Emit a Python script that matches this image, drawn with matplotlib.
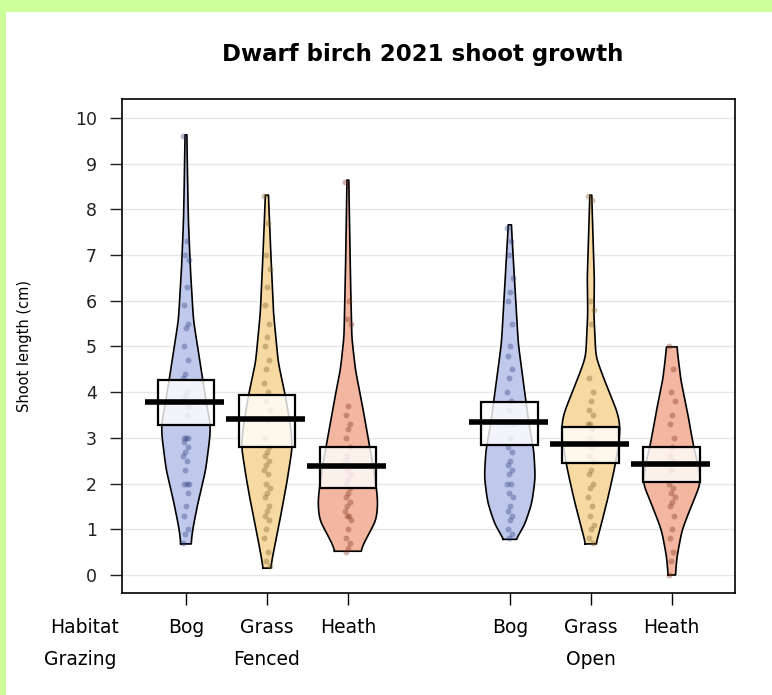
import numpy as np
import matplotlib.pyplot as plt
from matplotlib import transforms
from matplotlib.patches import Rectangle

# groups: grazing x habitat
habitat = ['Bog', 'Grass', 'Heath', 'Bog', 'Grass', 'Heath']
grazing = ['Fenced', 'Open']
pos = [1, 2, 3, 5, 6, 7]

# shoot lengths (cm) per group
pts_fb = [9.6, 7.3, 7.0, 6.9, 6.3, 5.9, 5.5, 5.4, 5.0, 4.7, 4.4, 4.3, 4.0, 3.9, 3.7, 3.5,
          3.0, 3.0, 3.0, 2.9, 2.8, 2.7, 2.6, 2.5, 2.3, 2.0, 2.0, 2.0, 1.8, 1.5, 1.3, 1.0, 0.9, 0.7]
pts_fg = [8.3, 7.7, 7.0, 6.7, 6.3, 5.9, 5.5, 5.2, 5.0, 4.7, 4.5, 4.2, 4.0, 3.8, 3.6, 3.4, 3.0,
          2.8, 2.7, 2.6, 2.5, 2.4, 2.3, 2.2, 2.0, 1.9, 1.8, 1.7, 1.5, 1.4, 1.3, 1.2, 1.0, 0.8,
          0.5, 0.3, 0.2]
pts_fh = [8.6, 6.0, 5.6, 5.5, 3.7, 3.5, 3.3, 3.2, 3.0, 2.8, 2.6, 2.5, 2.4, 2.3, 2.2, 2.1, 2.0,
          1.9, 1.8, 1.7, 1.6, 1.5, 1.4, 1.3, 1.3, 1.2, 1.0, 0.8, 0.7, 0.6, 0.5]
pts_ob = [7.6, 7.3, 7.0, 6.5, 6.2, 6.0, 5.5, 5.0, 4.8, 4.5, 4.3, 4.0, 3.8, 3.6, 3.3, 3.0, 2.8,
          2.7, 2.5, 2.4, 2.3, 2.2, 2.0, 2.0, 1.8, 1.7, 1.5, 1.4, 1.3, 1.2, 1.0, 0.9, 0.8]
pts_og = [8.3, 8.2, 6.0, 5.8, 5.5, 4.3, 4.0, 3.8, 3.6, 3.5, 3.3, 3.3, 3.2, 3.0, 2.9, 2.8, 2.6,
          2.5, 2.3, 2.2, 2.0, 1.9, 1.7, 1.5, 1.3, 1.1, 1.0, 0.8, 0.7]
pts_oh = [5.0, 4.5, 4.0, 3.8, 3.5, 3.3, 3.0, 2.8, 2.6, 2.5, 2.3, 2.0, 1.9, 1.8, 1.7, 1.6, 1.5,
          1.3, 1.0, 0.8, 0.5, 0.3, 0.0]

# density outlines (y in cm, relative density)
dy_fb = [0.68, 0.70, 0.98, 1.58, 2.30, 3.02, 3.30, 3.70, 4.27, 4.86, 5.58, 6.67, 7.77, 8.80, 9.63]
dd_fb = [0.17, 0.17, 0.22, 0.40, 0.66, 0.80, 0.82, 0.70, 0.56, 0.42, 0.25, 0.15, 0.08, 0.05, 0.03]
dy_fg = [0.15, 0.18, 0.62, 1.36, 2.08, 2.80, 3.20, 3.60, 3.98, 4.64, 5.73, 7.18, 8.31]
dd_fg = [0.12, 0.13, 0.25, 0.48, 0.68, 0.85, 0.80, 0.70, 0.60, 0.38, 0.22, 0.12, 0.05]
dy_fh = [0.52, 0.55, 0.83, 1.20, 1.58, 1.86, 2.40, 3.02, 3.76, 4.49, 5.20, 6.67, 8.64]
dd_fh = [0.42, 0.42, 0.64, 0.95, 1.00, 0.96, 0.84, 0.67, 0.47, 0.25, 0.13, 0.08, 0.03]
dy_ob = [0.78, 0.80, 1.05, 1.58, 2.14, 2.73, 3.30, 3.98, 5.07, 6.52, 7.66]
dd_ob = [0.17, 0.20, 0.47, 0.74, 0.85, 0.80, 0.64, 0.50, 0.28, 0.15, 0.05]
dy_og = [0.68, 0.70, 0.98, 1.71, 2.36, 2.90, 3.24, 3.54, 4.27, 4.77, 5.73, 6.46, 7.50, 8.31]
dd_og = [0.17, 0.17, 0.30, 0.58, 0.80, 0.94, 0.98, 0.90, 0.45, 0.17, 0.10, 0.12, 0.07, 0.03]
dy_oh = [0.00, 0.39, 0.98, 1.49, 2.01, 2.50, 2.80, 3.54, 4.27, 4.99]
dd_oh = [0.12, 0.17, 0.34, 0.64, 0.97, 0.85, 0.73, 0.53, 0.30, 0.17]

# means and inference band
means = [3.79, 3.41, 2.38, 3.34, 2.87, 2.43]
box_lo = [3.28, 2.80, 1.90, 2.84, 2.45, 2.04]
box_hi = [4.27, 3.94, 2.80, 3.79, 3.24, 2.80]

points = [pts_fb, pts_fg, pts_fh, pts_ob, pts_og, pts_oh]
dens_y = [dy_fb, dy_fg, dy_fh, dy_ob, dy_og, dy_oh]
dens = [dd_fb, dd_fg, dd_fh, dd_ob, dd_og, dd_oh]

fills = ['#c0c8ec', '#f6daa2', '#f3b6a0'] * 2
dots = ['#2b3a7a', '#7a5a20', '#7a2e18'] * 2


def outline(yk, dk, n=300, sigma=0.12):
    # rounded outline through the density knots
    yy = np.linspace(yk[0], yk[-1], n)
    ww = np.interp(yy, yk, dk)
    step = yy[1] - yy[0]
    k = int(3 * sigma / step) + 1
    g = np.exp(-0.5 * (np.arange(-k, k + 1) * step / sigma) ** 2)
    g /= g.sum()
    padded = np.concatenate([np.full(k, ww[0]), ww, np.full(k, ww[-1])])
    return yy, np.convolve(padded, g, mode='valid')


fig = plt.figure(figsize=(7.72, 6.95), dpi=100, facecolor='#ccff99')
fig.patches.append(Rectangle((6 / 772, 0), 1, 1 - 12 / 695, transform=fig.transFigure,
                             facecolor='white', edgecolor='none', zorder=-10))
ax = fig.add_axes([0.158, 0.147, 0.794, 0.711])

half_w = 0.37
for i in range(6):
    x0 = pos[i]
    y, d = outline(dens_y[i], dens[i])
    hw = d * half_w
    ax.fill_betweenx(y, x0 - hw, x0 + hw, color=fills[i], lw=0, zorder=2)
    ox = np.concatenate([x0 - hw, (x0 + hw)[::-1], [x0 - hw[0]]])
    oy = np.concatenate([y, y[::-1], [y[0]]])
    ax.plot(ox, oy, color='black', lw=1.2, zorder=3)

    v = np.array(points[i])
    jit = (((np.arange(len(v)) * 7) % 11) - 5) / 5 * 0.035
    ax.scatter(x0 + jit, v, s=18, color=dots[i], alpha=0.35, lw=0, zorder=4)

    ax.add_patch(Rectangle((x0 - 0.35, box_lo[i]), 0.7, box_hi[i] - box_lo[i],
                           facecolor='white', alpha=0.8, edgecolor='none', zorder=5))
    ax.add_patch(Rectangle((x0 - 0.35, box_lo[i]), 0.7, box_hi[i] - box_lo[i],
                           facecolor='none', edgecolor='black', lw=1.6, zorder=6))
    ax.plot([x0 - 0.5, x0 + 0.47], [means[i], means[i]], color='black', lw=4,
            solid_capstyle='butt', zorder=7)

ax.set_xlim(0.21, 7.78)
ax.set_ylim(-0.39, 10.42)
for yy in range(11):
    ax.axhline(yy, color='#e6e6e6', lw=1, zorder=1)

ax.set_yticks(range(11))
ax.set_xticks(pos)
ax.set_xticklabels([])
ax.tick_params(axis='y', length=9, width=1, pad=9, labelsize=12.5, colors='#222222')
ax.tick_params(axis='x', length=8.5, width=1)
for s in ax.spines.values():
    s.set_linewidth(1.2)

ax.set_ylabel('Shoot length (cm)', fontsize=10.5, labelpad=31)
fig.text(0.548, 0.921, 'Dwarf birch 2021 shoot growth', ha='center', va='center',
         fontsize=16.5, fontweight='bold')

trans = transforms.blended_transform_factory(ax.transData, fig.transFigure)
ax.text(-0.25, 0.0978, 'Habitat', transform=trans, ha='center', va='center',
        fontsize=13.5, clip_on=False)
ax.text(-0.30, 0.0504, 'Grazing', transform=trans, ha='center', va='center',
        fontsize=13.5, clip_on=False)
for x0, lab in zip(pos, habitat):
    ax.text(x0, 0.0978, lab, transform=trans, ha='center', va='center', fontsize=13.5,
            clip_on=False)
for x0, lab in zip([2, 6], grazing):
    ax.text(x0, 0.0504, lab, transform=trans, ha='center', va='center', fontsize=13.5,
            clip_on=False)

fig.savefig('out.png', dpi=100, facecolor=fig.get_facecolor())
